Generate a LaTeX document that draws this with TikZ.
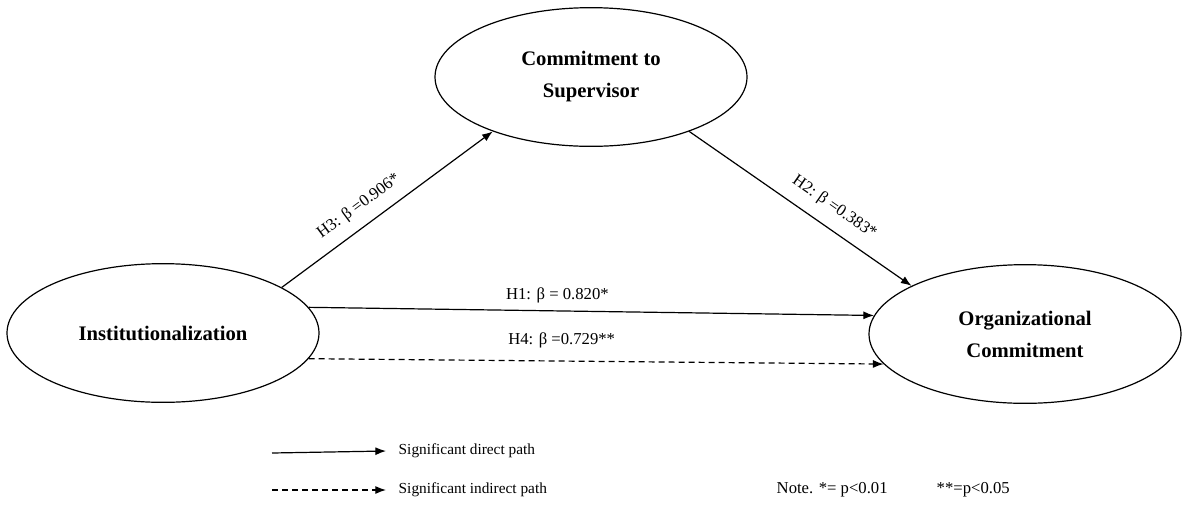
\documentclass[tikz,border=0pt]{standalone}
\usepackage{fontspec}
\setmainfont{Liberation Serif}
\usepackage{tikz}
\usetikzlibrary{arrows.meta,shapes.geometric}

\begin{document}
\begin{tikzpicture}[x=0.75pt,y=-0.75pt,
		construct/.style={ellipse,draw,line width=0.9pt,inner sep=0pt,minimum width=234pt,minimum height=104pt,align=center,font=\fontsize{15.5}{24}\selectfont\bfseries},
		direct/.style={line width=0.9pt,-{Latex[length=8pt,width=6pt]}},
		indirect/.style={direct,dash pattern=on 4.5pt off 3pt},
		coef/.style={font=\fontsize{12.5}{14}\selectfont},
		legtext/.style={font=\fontsize{11.5}{14}\selectfont}]
		\useasboundingbox (0,0) rectangle (1187,504);
%		\draw[help lines,step=50] (0,0) grid (1187,504);
		\path (163,333) node(inst) [construct] {Institutionalization};
		\path (591,77) node(sup) [construct] {Commitment to\\Supervisor};
		\path (1025,334) node(orgc) [construct] {Organizational\\Commitment};

		\draw[direct] (inst.21) -- (sup.209)
			node[coef,pos=0.42,above=5pt,sloped] {H3: β =0.906*};
		\draw[direct] (sup.331) -- (orgc.157)
			node[coef,pos=0.6,above=6pt,sloped] {H2: β =0.383*};
		\draw[direct] (inst.10) -- (orgc.173)
			node[coef,pos=0.44,above=2pt] {H1: β = 0.820*};
		\draw[indirect] (inst.350) -- (orgc.192)
			node[coef,pos=0.44,above=6pt] {H4: β =0.729**};

		% legend
		\path (272,453) coordinate (leg_direct0);
		\path (386,451) coordinate (leg_direct1);
		\path (272,490) coordinate (leg_indirect0);
		\path (386,490) coordinate (leg_indirect1);
		\draw[direct] (leg_direct0) -- (leg_direct1);
		\draw[indirect] (leg_indirect0) -- (leg_indirect1);
		\path (leg_direct1) +(8,0) node(leg_direct_txt) [legtext,right] {Significant direct path};
		\path (leg_indirect1) +(8,0) node(leg_indirect_txt) [legtext,right] {Significant indirect path};
		\path (772,490) node(note) [coef,right] {Note. *= p<0.01};
		\path (932,490) node(note2) [coef,right] {**=p<0.05};
	\end{tikzpicture}
\end{document}
